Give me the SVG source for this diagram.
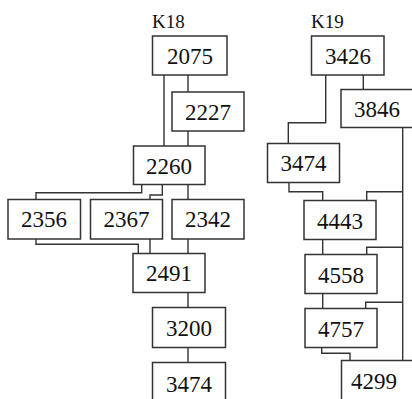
<svg xmlns="http://www.w3.org/2000/svg" width="412" height="399" viewBox="0 0 412 399">
<style>
.box rect{fill:#fff;stroke:#333;stroke-width:1.5}
.box text{font-family:"Liberation Serif",serif;font-size:23px;fill:#111;text-anchor:middle}
.lbl{font-family:"Liberation Serif",serif;font-size:19px;fill:#111}
#connectors path{fill:none;stroke:#333;stroke-width:1.4}
</style>
<rect width="412" height="399" fill="#fff"/>
<text class="lbl" x="152" y="28">K18</text>
<text class="lbl" x="311" y="28">K19</text>
<g id="connectors">
<path d="M164 75V146"/>
<path d="M188 75V92"/>
<path d="M188 131V146"/>
<path d="M141.7 184.3V192.7H36V199.3"/>
<path d="M162.3 184.3V195H150V199.3"/>
<path d="M188 184.3V199.3"/>
<path d="M36 239V244.3H138.3V253.3"/>
<path d="M150 239V253.3"/>
<path d="M188 239V253.3"/>
<path d="M188 292.7V307.7"/>
<path d="M188 347.3V362.3"/>
<path d="M325.7 75V122.7H288.3V143.3"/>
<path d="M363.3 75V89.3"/>
<path d="M402.7 127.7V360.7"/>
<path d="M402.7 191.7H366.7V200.7"/>
<path d="M402.7 247.3H366.7V254.3"/>
<path d="M402.7 302.3H365.7V308.3"/>
<path d="M289 182.7V191.7H322.7V200.7"/>
<path d="M322.7 239.3V254.3"/>
<path d="M322.7 293.3V308.3"/>
<path d="M321.7 347.3V353.3H350V360.7"/>
</g>
<g id="n2075" class="box"><rect x="152.5" y="36" width="74.5" height="39"/><text x="190" y="64">2075</text></g>
<g id="n2227" class="box"><rect x="172" y="92" width="72" height="39"/><text x="208" y="120">2227</text></g>
<g id="n2260" class="box"><rect x="133.5" y="146" width="71.5" height="38.5"/><text x="169" y="173.5">2260</text></g>
<g id="n2356" class="box"><rect x="8" y="199.5" width="72.5" height="39.5"/><text x="44" y="227">2356</text></g>
<g id="n2367" class="box"><rect x="90.5" y="199.5" width="72" height="39.5"/><text x="126.5" y="227">2367</text></g>
<g id="n2342" class="box"><rect x="172" y="199.5" width="72" height="39.5"/><text x="208" y="227">2342</text></g>
<g id="n2491" class="box"><rect x="133" y="253.5" width="72" height="39"/><text x="169" y="281">2491</text></g>
<g id="n3200" class="box"><rect x="152.5" y="307.5" width="73" height="40"/><text x="189" y="336">3200</text></g>
<g id="n3474a" class="box"><rect x="152.5" y="362.5" width="73" height="40"/><text x="189" y="391.5">3474</text></g>
<g id="n3426" class="box"><rect x="311.5" y="36" width="72.5" height="39"/><text x="348" y="64">3426</text></g>
<g id="n3846" class="box"><rect x="341" y="89.5" width="73" height="38"/><text x="377" y="117">3846</text></g>
<g id="n3474b" class="box"><rect x="267.5" y="143.5" width="72" height="39"/><text x="303.5" y="171">3474</text></g>
<g id="n4443" class="box"><rect x="304" y="200.5" width="72" height="39"/><text x="340" y="229">4443</text></g>
<g id="n4558" class="box"><rect x="305" y="254.5" width="72" height="39"/><text x="341" y="282.5">4558</text></g>
<g id="n4757" class="box"><rect x="305" y="308.5" width="72" height="39"/><text x="341" y="336.5">4757</text></g>
<g id="n4299" class="box"><rect x="341.5" y="360.5" width="73" height="42"/><text x="374" y="388.5">4299</text></g>
</svg>
